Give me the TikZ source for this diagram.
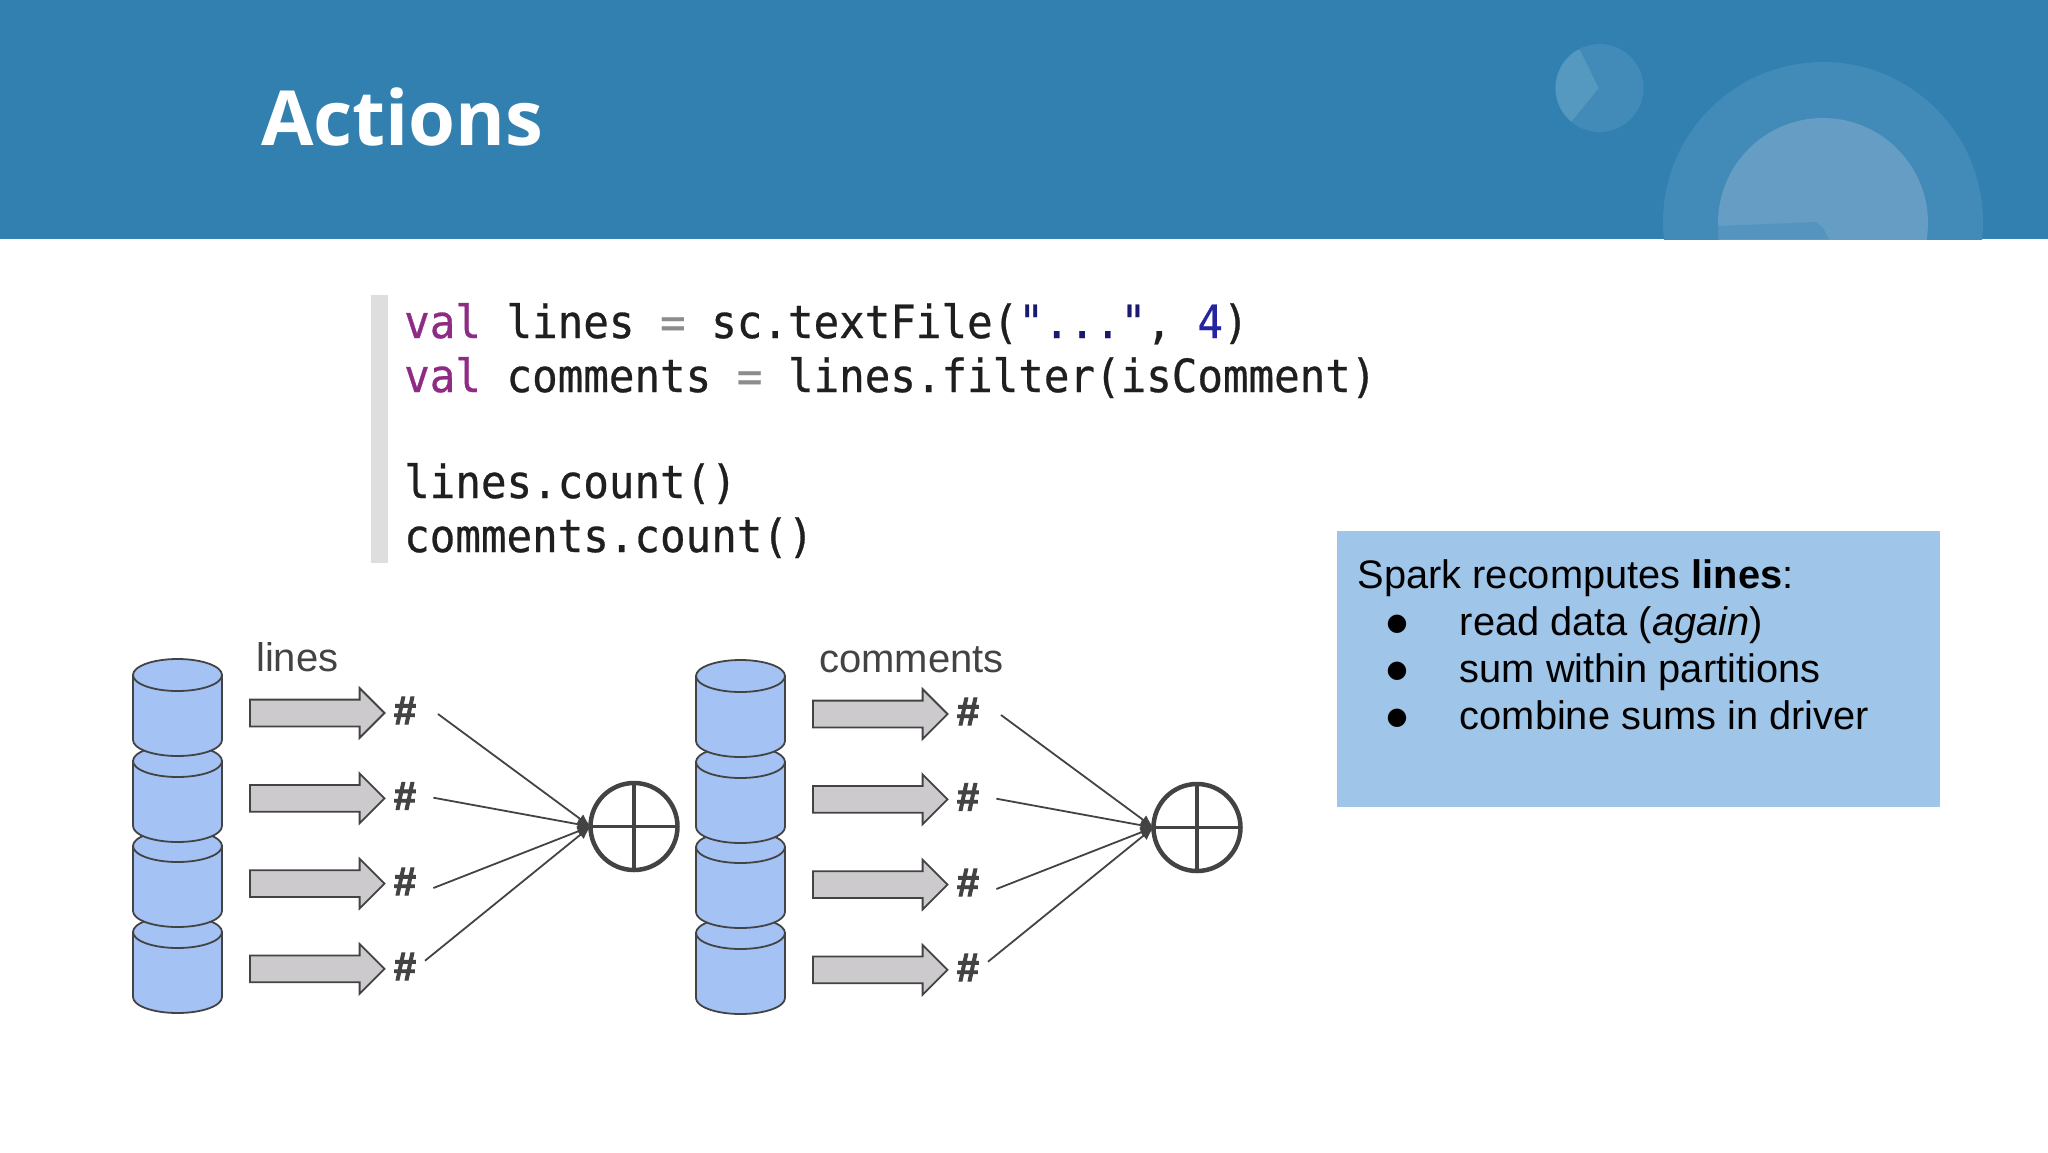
\documentclass[tikz,border=0pt]{standalone}
\usepackage{fontspec}
\setmainfont{Liberation Sans}
\newfontfamily\codefont[FakeStretch=0.93,FakeBold=0.6]{DejaVu Sans Mono}
\newfontfamily\titlefont{Open Sans}
\newfontfamily\bulletfont{DejaVu Sans}
\newfontfamily\hashfont[BoldFeatures={FakeBold=2.5}]{Liberation Sans}
\usepackage{tikz}
\usetikzlibrary{positioning,shapes.arrows,arrows.meta}
\definecolor{headblue}{HTML}{3180AF}
\definecolor{ringblue}{HTML}{428AB8}
\definecolor{coreblue}{HTML}{659DC4}
\definecolor{wedgeblue}{HTML}{5598C0}
\definecolor{panelblue}{HTML}{9FC5E8}
\definecolor{cylblue}{HTML}{A4C2F4}
\definecolor{arrowgrey}{HTML}{CCCACC}
\definecolor{inkgrey}{HTML}{434343}
\definecolor{valpurple}{HTML}{8E2B84}
\definecolor{numblue}{HTML}{2424A0}
\tikzset{
	partcyl/.pic={
		\draw[draw=inkgrey, fill=cylblue, line width=1.8pt] (-44.5,0) -- (-44.5,65)
			arc[start angle=180, end angle=0, x radius=44.5, y radius=16] -- (44.5,0) -- cycle;
		\draw[draw=inkgrey, fill=cylblue, line width=1.8pt] (0,0) ellipse [x radius=44.5, y radius=16];
	},
	maparrow/.style={single arrow, draw=inkgrey, fill=arrowgrey, line width=1.8pt,
		single arrow head extend=11.5pt, single arrow tip angle=90, single arrow head indent=0pt,
		minimum height=134.5pt, inner xsep=0pt, inner ysep=12.5pt, outer sep=0pt},
	hashmark/.style={font=\fontsize{40}{40}\hashfont\bfseries, text=inkgrey, inner sep=0pt},
	sumcircle/.style={circle, draw=inkgrey, line width=4.5pt, fill=white, minimum size=87pt, inner sep=0pt, outer sep=0pt},
	crossbar/.style={draw=inkgrey, line width=3.5pt},
	edgeline/.style={draw=inkgrey, line width=1.8pt, -{Latex[length=13pt,width=11pt]}},
	rddname/.style={font=\fontsize{40}{40}\selectfont, text=inkgrey, anchor=base west, inner sep=0pt},
	codeline/.style={font=\fontsize{45.7}{45.7}\codefont, text=black!88, anchor=base west, inner sep=0pt},
	paneltext/.style={font=\fontsize{39.8}{39.8}\selectfont, text=black, anchor=base west, inner sep=0pt},
	panelbullet/.style={font=\fontsize{24}{24}\bulletfont, text=black, inner sep=0pt},
}
\begin{document}
\begin{tikzpicture}[x=1pt, y=-1pt]
	\useasboundingbox (0,0) rectangle (2048,1152);

	% Header band
	\fill[headblue] (0,0) rectangle (2048,239);
	\begin{scope}
		\clip (0,0) rectangle (2048,239);
		\fill[ringblue] (1823,222) circle (160);
		\fill[coreblue] (1823,223) circle (105);
		\fill[coreblue!55!ringblue] (1718,226) -- (1816,222) -- (1823,228) -- (1829,239) -- (1718,239) -- cycle;
	\end{scope}
	\fill[ringblue] (1599.5,88) circle (44);
	\begin{scope}
		\clip (1599.5,88) circle (44);
		\fill[wedgeblue] (1580,50) -- (1598.6,88) -- (1572,121) -- (1540,121) -- (1540,50) -- cycle;
	\end{scope}
	\node[font=\fontsize{76}{76}\titlefont\bfseries, text=white, anchor=base west, inner sep=0pt] (title) at (261,145) {Actions};

	% Code listing
	\fill[black!13] (371,295) rectangle (388,563);
	\node[codeline] (code1) at (404,338) {\textcolor{valpurple}{val} lines \textcolor{black!45}{=} sc.textFile(\textcolor{numblue!70!black}{"..."}, \textcolor{numblue}{4})};
	\node[codeline] (code2) at (404,392) {\textcolor{valpurple}{val} comments \textcolor{black!45}{=} lines.filter(isComment)};
	\node[codeline] (code3) at (404,498) {lines.count()};
	\node[codeline] (code4) at (404,552) {comments.count()};

	% Define nodes, left group
	\pic (a4) at (177.5,932) {partcyl};
	\pic (a3) at (177.5,846) {partcyl};
	\pic (a2) at (177.5,761) {partcyl};
	\pic (a1) at (177.5,675) {partcyl};
	\node[rddname] (lines) at (256,671) {lines};

	\node[maparrow, anchor=tail] (m1) at (250,713) {};
	\node[maparrow, below=58.5pt of m1] (m2) {};
	\node[maparrow, below=58.5pt of m2] (m3) {};
	\node[maparrow, below=58.5pt of m3] (m4) {};

	\node[hashmark] (h1) at (405,710.5) {\#};
	\node[hashmark] (h2) at (405,796) {\#};
	\node[hashmark] (h3) at (405,881.5) {\#};
	\node[hashmark] (h4) at (405,966.5) {\#};

	\node[sumcircle] (s1) at (634,826.5) {};
	\coordinate (f1) at (438,714);
	\coordinate (f2) at (433.4,797.7);
	\coordinate (f3) at (433.4,888);
	\coordinate (f4) at (425,960.7);

	\draw[crossbar] (s1.north) -- (s1.south);
	\draw[crossbar] (s1.west) -- (s1.east);
	\draw[edgeline] (f1) -- (s1.west);
	\draw[edgeline] (f2) -- (s1.west);
	\draw[edgeline] (f3) -- (s1.west);
	\draw[edgeline] (f4) -- (s1.west);

	% Define nodes, right group
	\pic (b4) at (740.5,933) {partcyl};
	\pic (b3) at (740.5,847) {partcyl};
	\pic (b2) at (740.5,762) {partcyl};
	\pic (b1) at (740.5,676) {partcyl};
	\node[rddname] (comments) at (819,672) {comments};

	\node[maparrow, anchor=tail] (n1) at (813,714) {};
	\node[maparrow, below=58.5pt of n1] (n2) {};
	\node[maparrow, below=58.5pt of n2] (n3) {};
	\node[maparrow, below=58.5pt of n3] (n4) {};

	\node[hashmark] (k1) at (968,711.5) {\#};
	\node[hashmark] (k2) at (968,797) {\#};
	\node[hashmark] (k3) at (968,882.5) {\#};
	\node[hashmark] (k4) at (968,967.5) {\#};

	\node[sumcircle] (s2) at (1197,827.5) {};
	\coordinate (g1) at (1001,715);
	\coordinate (g2) at (996.4,798.7);
	\coordinate (g3) at (996.4,889);
	\coordinate (g4) at (988,961.7);

	\draw[crossbar] (s2.north) -- (s2.south);
	\draw[crossbar] (s2.west) -- (s2.east);
	\draw[edgeline] (g1) -- (s2.west);
	\draw[edgeline] (g2) -- (s2.west);
	\draw[edgeline] (g3) -- (s2.west);
	\draw[edgeline] (g4) -- (s2.west);

	% Note panel
	\node[fill=panelblue, minimum width=603pt, minimum height=275.7pt, inner sep=0pt, anchor=north west] (panel) at (1337,531) {};
	\node[paneltext] (note) at (1357.5,588) {Spark recomputes \textbf{lines}:};
	\node[panelbullet] (b1dot) at (1397,624) {●};
	\node[panelbullet] (b2dot) at (1397,671) {●};
	\node[panelbullet] (b3dot) at (1397,718) {●};
	\node[paneltext] (item1) at (1459.6,635) {read data (\textit{again})};
	\node[paneltext] (item2) at (1459.6,682) {sum within partitions};
	\node[paneltext] (item3) at (1459.6,729) {combine sums in driver};
\end{tikzpicture}
\end{document}
